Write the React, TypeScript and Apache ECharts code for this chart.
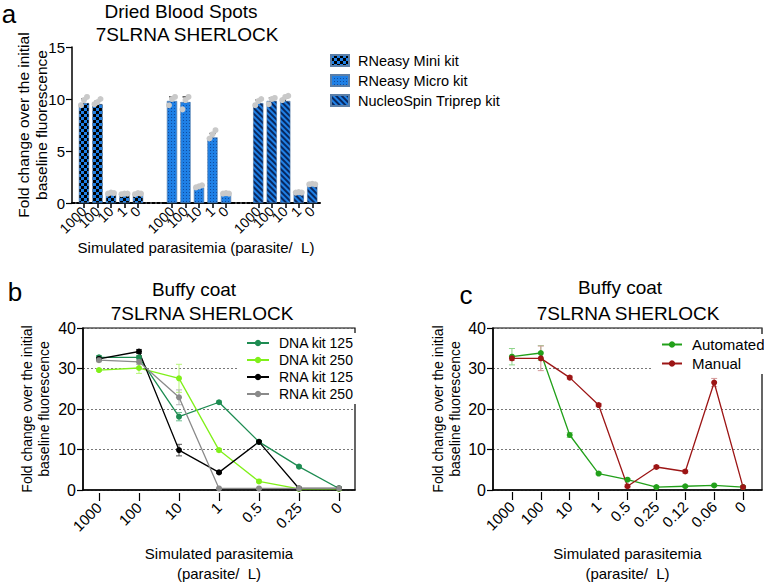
import React, { useEffect, useRef } from 'react';
import * as echarts from 'echarts';

const FONT = "'Liberation Sans', Arial, Helvetica, sans-serif";

// ---------- Panel a : Dried Blood Spots ----------
const kitNames = ['RNeasy Mini kit', 'RNeasy Micro kit', 'NucleoSpin Triprep kit'];
const barCats = ['1000', '100', '10', '1', '0'];
const miniMean = [9.6, 9.5, 0.85, 0.8, 0.8];
const microMean = [9.8, 9.7, 1.5, 6.3, 0.8];
const triprepMean = [9.6, 9.8, 9.8, 0.9, 1.7];
const miniSd = [0.4, 0.3, 0.05, 0.05, 0.05];
const microSd = [0.4, 0.5, 0.1, 0.4, 0.05];
const triprepSd = [0.3, 0.3, 0.3, 0.05, 0.1];
const miniReps = [[9.4, 9.9, 10.2], [9.5, 9.7, 10.0], [0.9, 1.0, 0.95], [0.85, 0.9, 0.9], [0.85, 0.95, 0.9]];
const microReps = [[9.4, 10.0, 10.2], [9.0, 9.9, 10.2], [1.5, 1.6, 1.7], [6.2, 6.6, 7.0], [0.9, 0.95, 0.9]];
const triprepReps = [[9.4, 9.8, 10.0], [9.5, 10.0, 10.1], [9.9, 10.2, 10.3], [1.0, 1.05, 1.0], [1.8, 1.85, 1.8]];

// ---------- Panel b : Buffy coat (kits) ----------
const catsB = ['1000', '100', '10', '1', '0.5', '0.25', '0'];
const namesB = ['DNA kit 125', 'DNA kit 250', 'RNA kit 125', 'RNA kit 250'];
const dna125 = [32.9, 32.9, 18.5, 22.0, 12.4, 6.4, 1.1];
const dna250 = [29.8, 30.3, 27.8, 10.4, 2.8, 1.0, 1.0];
const rna125 = [32.5, 34.3, 10.4, 5.0, 12.4, 1.1, 1.1];
const rna250 = [32.2, 31.8, 23.2, 1.1, 1.1, 1.1, 1.1];
const dna125Sd = [0.4, 0.4, 1.0, 0.3, 0.3, 0.3, 0.2];
const dna250Sd = [0.3, 1.3, 3.4, 0.4, 0.3, 0.1, 0.1];
const rna125Sd = [0.4, 0.5, 1.4, 0.3, 0.3, 0.1, 0.1];
const rna250Sd = [0.4, 0.6, 1.8, 0.1, 0.1, 0.1, 0.1];

// ---------- Panel c : Buffy coat (automated vs manual) ----------
const catsC = ['1000', '100', '10', '1', '0.5', '0.25', '0.12', '0.06', '0'];
const namesC = ['Automated', 'Manual'];
const automated = [33.0, 33.9, 13.9, 4.5, 3.0, 1.2, 1.4, 1.6, 1.2];
const manual = [32.6, 32.6, 27.9, 21.2, 1.4, 6.1, 5.0, 26.7, 1.2];
const automatedSd = [2.0, 1.8, 0.6, 0.3, 0.3, 0.2, 0.2, 0.2, 0.2];
const manualSd = [0.5, 3.0, 0.4, 0.4, 0.4, 0.4, 0.4, 1.0, 0.2];

const yNameText = 'Fold change over the initial\nbaseline fluorescence';

function errorBars(xAxisIndex: number, yAxisIndex: number, mean: number[], sd: number[], color: string, upperOnly: boolean, z: number) {
  return {
    type: 'custom',
    xAxisIndex,
    yAxisIndex,
    z,
    silent: true,
    data: mean.map((m, i) => [i, upperOnly ? m : m - sd[i], m + sd[i]]),
    encode: { x: 0, y: [1, 2] },
    renderItem: (_p: any, api: any) => {
      const lo = api.coord([api.value(0), api.value(1)]);
      const hi = api.coord([api.value(0), api.value(2)]);
      const w = 3;
      const st = { stroke: color, lineWidth: 1 };
      const children: any[] = [
        { type: 'line', shape: { x1: lo[0], y1: lo[1], x2: hi[0], y2: hi[1] }, style: st },
        { type: 'line', shape: { x1: hi[0] - w, y1: hi[1], x2: hi[0] + w, y2: hi[1] }, style: st },
      ];
      if (!upperOnly) {
        children.push({ type: 'line', shape: { x1: lo[0] - w, y1: lo[1], x2: lo[0] + w, y2: lo[1] }, style: st });
      }
      return { type: 'group', children };
    },
  };
}

const BLUE = '#1f80e6';
const decals: any[] = [
  { symbol: 'rect', symbolSize: 1, dashArrayX: [[2.5, 2.5], [0, 2.5, 2.5, 0]], dashArrayY: [2.5, 0], color: '#000' },
  { symbol: 'rect', symbolSize: 1, dashArrayX: [[1, 1.5]], dashArrayY: [1, 1.5], color: 'rgba(0,25,90,0.5)' },
  { symbol: 'rect', symbolSize: 1, rotation: Math.PI / 4, dashArrayX: [[1, 0]], dashArrayY: [1.2, 1.6], color: 'rgba(0,10,50,0.75)' },
];

function buildOption() {
  const txt = { fontFamily: FONT, color: '#000' };
  const hiddenY = (gridIndex: number, max: number) => ({ type: 'value', gridIndex, min: 0, max, show: false });

  const aGrids = [
    { left: 72, top: 47, width: 248, height: 156 },
    { left: 77.25, top: 47, width: 67.5, height: 156 },
    { left: 165.25, top: 47, width: 67.5, height: 156 },
    { left: 251.5, top: 47, width: 67.5, height: 156 },
  ];
  const bGrids = [
    { left: 83, top: 328, width: 272, height: 165, show: true, borderColor: '#000', borderWidth: 1.2, backgroundColor: 'transparent' },
    { left: 79, top: 328, width: 280, height: 165 },
  ];
  const cGrids = [
    { left: 493, top: 328, width: 269, height: 164, show: true, borderColor: '#000', borderWidth: 1.2, backgroundColor: 'transparent' },
    { left: 497.5, top: 328, width: 260, height: 164 },
  ];

  const means = [miniMean, microMean, triprepMean];
  const sds = [miniSd, microSd, triprepSd];
  const reps = [miniReps, microReps, triprepReps];

  const xAxis: any[] = [
    {
      type: 'value', gridIndex: 0, min: 0, max: 1,
      axisLine: { show: true, lineStyle: { color: '#000', width: 2, type: [3, 2] } },
      axisTick: { show: false }, axisLabel: { show: false }, splitLine: { show: false },
      name: 'Simulated parasitemia (parasite/  L)', nameLocation: 'middle', nameGap: 37,
      nameTextStyle: { ...txt, fontSize: 15 },
    },
    ...[1, 2, 3].map((g) => ({
      type: 'category', gridIndex: g, data: barCats,
      axisLine: { show: true, lineStyle: { color: '#000', width: 2 } },
      axisTick: { show: true, alignWithLabel: true, length: 5, lineStyle: { color: '#000', width: 1.5 } },
      axisLabel: { ...txt, fontSize: 14, rotate: 45, margin: 6, interval: 0, hideOverlap: false },
    })),
    {
      type: 'value', gridIndex: 4, min: 0, max: 1,
      axisLine: { show: true, lineStyle: { color: '#000', width: 1.5 } },
      axisTick: { show: false }, axisLabel: { show: false }, splitLine: { show: false },
      name: 'Simulated parasitemia\n(parasite/  L)', nameLocation: 'middle', nameGap: 53,
      nameTextStyle: { ...txt, fontSize: 15, lineHeight: 20 },
    },
    {
      type: 'category', gridIndex: 5, data: catsB,
      axisLine: { show: false },
      axisTick: { show: true, alignWithLabel: true, length: 8, lineStyle: { color: '#000', width: 1.2 } },
      axisLabel: { ...txt, fontSize: 15, rotate: 45, margin: 12, interval: 0 },
    },
    {
      type: 'value', gridIndex: 6, min: 0, max: 1,
      axisLine: { show: true, lineStyle: { color: '#000', width: 1.5 } },
      axisTick: { show: false }, axisLabel: { show: false }, splitLine: { show: false },
      name: 'Simulated parasitemia\n(parasite/  L)', nameLocation: 'middle', nameGap: 53,
      nameTextStyle: { ...txt, fontSize: 15, lineHeight: 20 },
    },
    {
      type: 'category', gridIndex: 7, data: catsC,
      axisLine: { show: false },
      axisTick: { show: true, alignWithLabel: true, length: 8, lineStyle: { color: '#000', width: 1.2 } },
      axisLabel: { ...txt, fontSize: 15, rotate: 45, margin: 12, interval: 0 },
    },
  ];

  const visY = (gridIndex: number, max: number, interval: number, nameGap: number, fontSize: number, split: boolean, nameSize: number) => ({
    type: 'value', gridIndex, min: 0, max, interval,
    axisLine: { show: true, lineStyle: { color: '#000', width: 1.5 } },
    axisTick: { show: true, length: 6, lineStyle: { color: '#000', width: 1.2 } },
    axisLabel: { ...txt, fontSize, margin: 7 },
    splitLine: split ? { show: true, lineStyle: { color: '#555', width: 0.8, type: [2, 2] } } : { show: false },
    name: yNameText, nameLocation: 'middle', nameGap, nameRotate: 90, nameMoveOverlap: false,
    nameTextStyle: { ...txt, fontSize: nameSize, lineHeight: nameSize + 3 },
  });

  const yAxis: any[] = [
    visY(0, 15, 5, 21, 15, false, 15.5),
    hiddenY(1, 15), hiddenY(2, 15), hiddenY(3, 15),
    visY(4, 40, 10, 31, 16, true, 14),
    hiddenY(5, 40),
    visY(6, 40, 10, 30, 16, true, 14),
    hiddenY(7, 40),
  ];

  const series: any[] = [];
  kitNames.forEach((name, k) => {
    const g = k + 1;
    series.push(errorBars(g, g, means[k], sds[k], '#000', true, 1));
    series.push({
      type: 'bar', name, xAxisIndex: g, yAxisIndex: g, z: 2,
      data: means[k], barWidth: 10,
      itemStyle: { color: BLUE, decal: decals[k], borderColor: '#5b7fa8', borderWidth: 0.4 },
    });
    const pts: any[] = [];
    reps[k].forEach((arr, i) => arr.forEach((v, j) => {
      pts.push({ value: [i, v], symbolOffset: [(j - 1) * 3, 0] });
    }));
    series.push({
      type: 'scatter', xAxisIndex: g, yAxisIndex: g, z: 3, silent: true,
      data: pts, symbolSize: 6, itemStyle: { color: '#c9c9c9', opacity: 1 },
    });
  });

  const bColors = ['#1e8c52', '#80f01a', '#000000', '#8a8a8a'];
  const bErr = ['#6fbf92', '#b8f57a', '#555555', '#b5b5b5'];
  const bData = [dna125, dna250, rna125, rna250];
  const bSd = [dna125Sd, dna250Sd, rna125Sd, rna250Sd];
  namesB.forEach((name, k) => {
    series.push(errorBars(5, 5, bData[k], bSd[k], bErr[k], false, 1));
    series.push({
      type: 'line', name, xAxisIndex: 5, yAxisIndex: 5, z: 2,
      data: bData[k], symbol: 'circle', symbolSize: 6, showSymbol: true,
      lineStyle: { color: bColors[k], width: 1.3 }, itemStyle: { color: bColors[k] },
    });
  });

  const cColors = ['#22a01a', '#9c1515'];
  const cErr = ['#8fd48a', '#d49a9a'];
  const cData = [automated, manual];
  const cSd = [automatedSd, manualSd];
  namesC.forEach((name, k) => {
    series.push(errorBars(7, 7, cData[k], cSd[k], cErr[k], false, 1));
    series.push({
      type: 'line', name, xAxisIndex: 7, yAxisIndex: 7, z: 2,
      data: cData[k], symbol: 'circle', symbolSize: 6, showSymbol: true,
      lineStyle: { color: cColors[k], width: 1.3 }, itemStyle: { color: cColors[k] },
    });
  });

  const gtext = (text: string, x: number, y: number, size: number, align = 'center') => ({
    type: 'text', x, y, z: 10,
    style: { text, fontFamily: FONT, fontSize: size, fill: '#000', textAlign: align, textVerticalAlign: 'middle' },
  });

  return {
    animation: false,
    backgroundColor: '#fff',
    grid: [...aGrids, ...bGrids, ...cGrids],
    xAxis,
    yAxis,
    legend: [
      {
        data: kitNames, left: 330, top: 53, orient: 'vertical', icon: 'rect',
        itemWidth: 18, itemHeight: 11, itemGap: 5, padding: 0,
        textStyle: { ...txt, fontSize: 14.5, padding: [0, 0, 0, 4] }, selectedMode: false,
      },
      {
        data: namesB, left: 238, top: 333, orient: 'vertical',
        itemWidth: 22, itemHeight: 8, itemGap: 3, padding: [3, 52, 3, 8],
        backgroundColor: '#fff', textStyle: { ...txt, fontSize: 14, padding: [0, 0, 0, 5] }, selectedMode: false,
      },
      {
        data: namesC, left: 653, top: 334, orient: 'vertical',
        itemWidth: 20, itemHeight: 8, itemGap: 4, padding: [3, 5, 3, 8],
        backgroundColor: '#fff', textStyle: { ...txt, fontSize: 15, padding: [0, 0, 0, 5] }, selectedMode: false,
      },
    ],
    graphic: [
      gtext('a', 9, 14, 26),
      gtext('Dried Blood Spots', 181, 11, 19),
      gtext('7SLRNA SHERLOCK', 187, 34, 19),
      gtext('b', 15, 292, 26),
      gtext('Buffy coat', 194, 289, 19),
      gtext('7SLRNA SHERLOCK', 202, 313, 19),
      gtext('c', 466, 295, 26),
      gtext('Buffy coat', 620, 287, 19),
      gtext('7SLRNA SHERLOCK', 628, 313, 19),
    ],
    series,
  };
}

export default function App() {
  const ref = useRef<HTMLDivElement>(null);
  useEffect(() => {
    document.body.style.margin = '0';
    if (!ref.current) return;
    const chart = echarts.init(ref.current, undefined, { renderer: 'svg' });
    chart.setOption(buildOption() as any);
    return () => chart.dispose();
  }, []);
  return <div ref={ref} style={{ width: 764, height: 584 }} />;
}
